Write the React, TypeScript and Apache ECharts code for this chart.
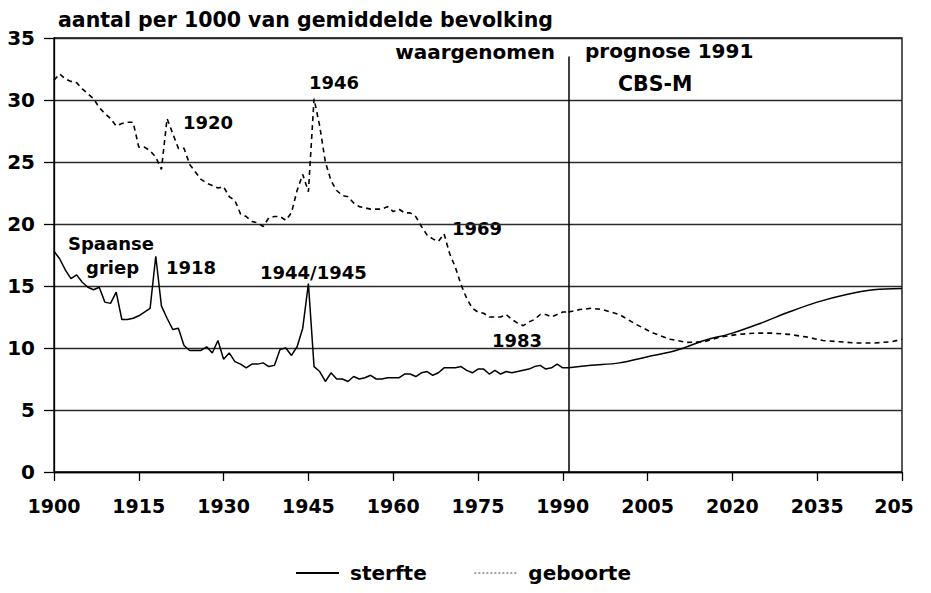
import React, { useEffect, useRef } from "react";
import * as echarts from "echarts";

const FONT = '"DejaVu Sans", "Noto Sans", sans-serif';
const BASE_YEAR = 1900;
const SPLIT_YEAR = 1991;

// x-axis tick labels (every 15 years); last one is cut off in the original
const xTickLabels = ["1900", "1915", "1930", "1945", "1960", "1975", "1990", "2005", "2020", "2035", "205"];
const yTickLabels = ["0", "5", "10", "15", "20", "25", "30", "35"];

// Observed 1900 .. 1991 (one value per year)
const observedStart = 1900;
const sterfteObserved = [
  17.8, 17.2, 16.3, 15.6, 15.9, 15.3, 14.9, 14.7, 14.9, 13.7,
  13.6, 14.5, 12.3, 12.3, 12.4, 12.6, 12.9, 13.2, 17.4, 13.4,
  12.4, 11.5, 11.6, 10.2, 9.8, 9.8, 9.8, 10.1, 9.6, 10.6,
  9.1, 9.6, 8.9, 8.7, 8.4, 8.7, 8.7, 8.8, 8.5, 8.6,
  9.9, 10.0, 9.4, 10.1, 11.6, 15.2, 8.5, 8.1, 7.3, 8.0,
  7.5, 7.5, 7.3, 7.7, 7.5, 7.6, 7.8, 7.5, 7.5, 7.6,
  7.6, 7.6, 7.9, 7.9, 7.7, 8.0, 8.1, 7.8, 8.0, 8.4,
  8.4, 8.4, 8.5, 8.2, 8.0, 8.3, 8.3, 7.9, 8.2, 7.9,
  8.1, 8.0, 8.1, 8.2, 8.3, 8.5, 8.6, 8.3, 8.4, 8.7,
  8.4, 8.4,
];
const geboorteObserved = [
  31.6, 32.1, 31.7, 31.5, 31.4, 30.9, 30.5, 30.1, 29.4, 28.9,
  28.5, 27.9, 28.1, 28.2, 28.2, 26.2, 26.2, 25.9, 25.4, 24.4,
  28.5, 27.3, 26.1, 26.1, 24.8, 24.2, 23.6, 23.3, 23.1, 22.9,
  23.0, 22.2, 21.9, 20.8, 20.6, 20.2, 20.1, 19.8, 20.5, 20.6,
  20.6, 20.3, 20.9, 22.7, 24.0, 22.6, 30.1, 27.9, 25.0, 23.5,
  22.7, 22.3, 22.2, 21.7, 21.4, 21.3, 21.2, 21.2, 21.2, 21.4,
  21.0, 21.2, 20.9, 20.9, 20.6, 19.8, 19.1, 18.8, 18.6, 19.2,
  17.6, 16.5, 15.1, 14.0, 13.2, 12.9, 12.8, 12.5, 12.5, 12.5,
  12.7, 12.3, 12.0, 11.8, 12.1, 12.3, 12.7, 12.7, 12.5, 12.7,
  12.9, 12.9,
];

// Forecast (prognose 1991, CBS-M)
const sterfteForecastYears = [1991, 1995, 2000, 2005, 2010, 2015, 2020, 2025, 2030, 2035, 2040, 2045, 2050];
const sterfteForecast = [8.4, 8.6, 8.8, 9.3, 9.8, 10.6, 11.2, 12.0, 12.9, 13.7, 14.3, 14.7, 14.8];
const geboorteForecastYears = [1991, 1993, 1995, 1997, 2000, 2003, 2006, 2009, 2012, 2015, 2018, 2021, 2024, 2027, 2030, 2033, 2036, 2039, 2042, 2045, 2048, 2050];
const geboorteForecast = [12.9, 13.1, 13.2, 13.1, 12.7, 11.9, 11.2, 10.7, 10.45, 10.5, 10.9, 11.1, 11.2, 11.2, 11.1, 10.9, 10.6, 10.5, 10.4, 10.4, 10.5, 10.7];

const seriesNames = ["sterfte", "geboorte"];

const toPairs = (years: number[], values: number[]) =>
  values.map((v, i) => [years[i] - BASE_YEAR, v]);
const obsPairs = (values: number[]) =>
  values.map((v, i) => [observedStart + i - BASE_YEAR, v]);

export default function App() {
  const ref = useRef<HTMLDivElement>(null);

  useEffect(() => {
    if (!ref.current) return;
    const chart = echarts.init(ref.current, undefined, { renderer: "svg" });

    const solid = () => ({ color: "#000", width: 1.5, type: "solid" as const });
    const dotted = () => ({ color: "#000", width: 1.6, type: [5, 4] as any });
    const hiddenSymbol = { color: "#000", opacity: 0 };
    const txt = (text: string, x: number, y: number, size = 18, align = "left", extra: any = {}) => ({
      type: "text",
      x,
      y,
      silent: true,
      style: {
        text,
        fill: "#000",
        font: `bold ${size}px ${FONT}`,
        textAlign: align,
        textVerticalAlign: "middle",
        ...extra,
      },
    });

    chart.setOption({
      animation: false,
      color: ["#000", "#000"],
      title: {
        text: "aantal per 1000 van gemiddelde bevolking",
        left: 53,
        top: 4,
        textStyle: { fontFamily: FONT, fontWeight: "bold", fontSize: 20.5, color: "#000" },
      },
      grid: {
        left: 54,
        top: 38,
        width: 848,
        height: 434,
        show: true,
        borderColor: "#000",
        borderWidth: 1.3,
        backgroundColor: "transparent",
      },
      xAxis: {
        type: "value",
        min: 0,
        max: 150,
        interval: 15,
        axisLine: { show: true, lineStyle: { color: "#000", width: 1.3 } },
        axisTick: { show: true, length: 9, lineStyle: { color: "#000", width: 1.3 } },
        splitLine: { show: false },
        axisLabel: {
          margin: 24,
          color: "#000",
          fontFamily: FONT,
          fontWeight: "bold",
          fontSize: 19,
          formatter: (v: number) => {
            const lbl = xTickLabels[Math.round(v / 15)] ?? "";
            return v === 150 ? `{r|${lbl}}` : lbl;
          },
          rich: {
            r: { padding: [0, 16, 0, 0], color: "#000", fontFamily: FONT, fontWeight: "bold", fontSize: 19 },
          },
        },
      },
      yAxis: {
        type: "value",
        min: 0,
        max: 35,
        interval: 5,
        axisLine: { show: true, lineStyle: { color: "#000", width: 1.3 } },
        axisTick: { show: true, length: 10, lineStyle: { color: "#000", width: 1.3 } },
        splitLine: { show: true, lineStyle: { color: "#2a2a2a", width: 1.3 } },
        axisLabel: {
          margin: 19,
          color: "#000",
          fontFamily: FONT,
          fontWeight: "bold",
          fontSize: 20,
          formatter: (v: number) => yTickLabels[Math.round(v / 5)] ?? "",
        },
      },
      legend: {
        left: 290,
        top: 558,
        itemWidth: 43,
        itemHeight: 14,
        itemGap: 47,
        selectedMode: false,
        itemStyle: { color: "rgba(0,0,0,0)", borderWidth: 0, opacity: 0 },
        textStyle: { fontFamily: FONT, fontWeight: "bold", fontSize: 20, color: "#000", padding: [0, 0, 0, 6] },
        data: [
          { name: seriesNames[0], lineStyle: { color: "#000", width: 2, type: "solid", opacity: 1 } },
          { name: seriesNames[1], lineStyle: { color: "#444", width: 1.2, type: [2, 2], opacity: 1 } },
        ],
      },
      series: [
        {
          name: seriesNames[0],
          type: "line",
          silent: true,
          symbol: "none",
          itemStyle: hiddenSymbol,
          lineStyle: solid(),
          data: obsPairs(sterfteObserved),
          markLine: {
            silent: true,
            symbol: ["none", "none"],
            label: { show: false },
            lineStyle: { color: "#000", width: 1.5, type: "solid" },
            data: [[{ coord: [SPLIT_YEAR - BASE_YEAR, 0] }, { coord: [SPLIT_YEAR - BASE_YEAR, 33.5] }]],
          },
        },
        {
          name: seriesNames[0],
          type: "line",
          silent: true,
          symbol: "none",
          itemStyle: hiddenSymbol,
          smooth: 0.35,
          lineStyle: solid(),
          data: toPairs(sterfteForecastYears, sterfteForecast),
        },
        {
          name: seriesNames[1],
          type: "line",
          silent: true,
          symbol: "none",
          itemStyle: hiddenSymbol,
          lineStyle: dotted(),
          data: obsPairs(geboorteObserved),
        },
        {
          name: seriesNames[1],
          type: "line",
          silent: true,
          symbol: "none",
          itemStyle: hiddenSymbol,
          lineStyle: dotted(),
          data: toPairs(geboorteForecastYears, geboorteForecast),
        },
      ],
      graphic: [
        txt("waargenomen", 555, 52, 20, "right"),
        txt("prognose 1991", 585, 51, 20),
        txt("CBS-M", 618, 84, 20.5),
        txt("1946", 309, 82),
        txt("1920", 183, 122),
        txt("Spaanse", 68, 243),
        txt("griep", 86, 267),
        txt("1918", 166, 267),
        txt("1944/1945", 260, 272),
        txt("1969", 448, 228, 18, "left", { backgroundColor: "#fff", padding: [0, 4, 0, 4] }),
        txt("1983", 492, 340),
      ],
    });

    return () => chart.dispose();
  }, []);

  return (
    <div
      ref={ref}
      style={{ position: "absolute", left: 0, top: 0, width: 931, height: 593, background: "#fff" }}
    />
  );
}
